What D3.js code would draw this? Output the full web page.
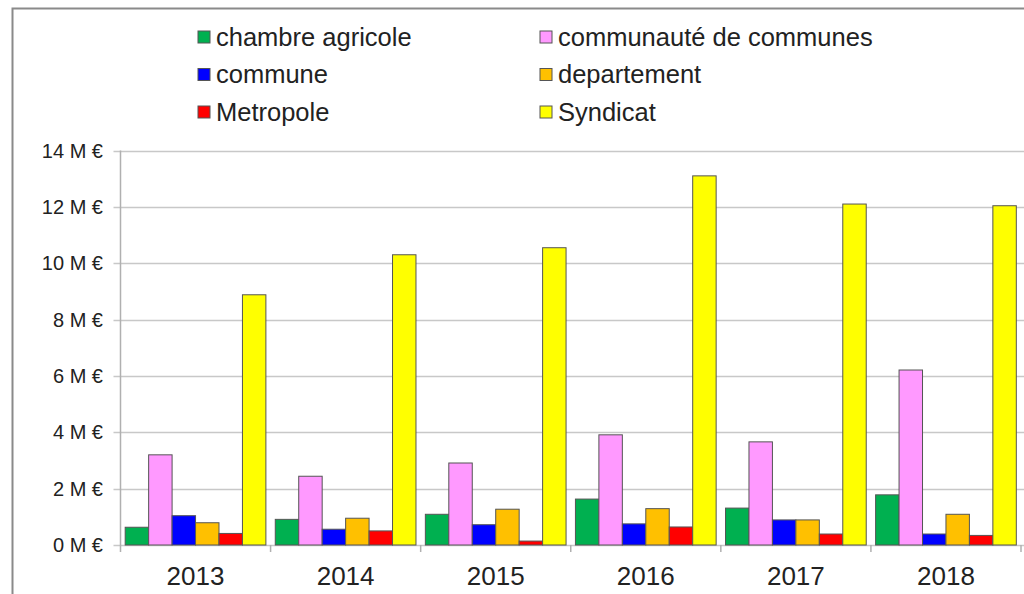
<!DOCTYPE html>
<html>
<head>
<meta charset="utf-8">
<script src="https://cdn.jsdelivr.net/npm/d3@7"></script>
<style>
  body { margin: 0; background: #fff; }
  text { font-family: "Liberation Sans", Arial, sans-serif; fill: #222; }
</style>
</head>
<body>
<script>
// data
var years = ["2013", "2014", "2015", "2016", "2017", "2018"];
var seriesNames = ["chambre agricole", "communauté de communes", "commune", "departement", "Metropole", "Syndicat"];
var seriesColors = ["#00b050", "#ff99ff", "#0000ff", "#ffc000", "#ff0000", "#ffff00"];
var chambre = [0.63, 0.91, 1.09, 1.63, 1.31, 1.78];
var communaute = [3.20, 2.44, 2.91, 3.91, 3.66, 6.21];
var commune = [1.04, 0.56, 0.72, 0.75, 0.89, 0.39];
var departement = [0.79, 0.95, 1.27, 1.29, 0.89, 1.09];
var metropole = [0.41, 0.50, 0.14, 0.64, 0.39, 0.34];
var syndicat = [8.88, 10.30, 10.55, 13.10, 12.10, 12.04];
var yTicks = [0, 2, 4, 6, 8, 10, 12, 14];

var values = [chambre, communaute, commune, departement, metropole, syndicat];

var cWidth = 1024;
var cHeight = 594;
var plotLeft = 120.5, plotRight = 1021, plotTop = 150.5, plotBottom = 545;

var svg = d3.select("body")
    .append("svg")
    .attr("width", cWidth)
    .attr("height", cHeight);

// chart frame
svg.append("rect")
    .attr("x", 12.5).attr("y", 8.5)
    .attr("width", 1100).attr("height", 700)
    .attr("fill", "none")
    .attr("stroke", "#8a8a8a")
    .attr("stroke-width", 2);

var x0 = d3.scaleBand()
    .domain(years)
    .range([plotLeft, plotRight]);

var x1 = d3.scaleBand()
    .domain(seriesNames)
    .range([0, x0.bandwidth()])
    .paddingOuter(0.2);

var y = d3.scaleLinear()
    .domain([0, 14])
    .range([plotBottom, plotTop]);

// gridlines
svg.append("g").selectAll("line")
    .data(yTicks)
    .enter()
    .append("line")
    .attr("x1", plotLeft - 7).attr("x2", cWidth)
    .attr("y1", function(d) { return Math.round(y(d)) + 0.5; })
    .attr("y2", function(d) { return Math.round(y(d)) + 0.5; })
    .attr("stroke", "#c8c8c8")
    .attr("stroke-width", 1.5);

// y axis
svg.append("line")
    .attr("x1", plotLeft).attr("x2", plotLeft)
    .attr("y1", plotTop).attr("y2", plotBottom + 7)
    .attr("stroke", "#b0b0b0")
    .attr("stroke-width", 1.5);

svg.append("g").selectAll("text")
    .data(yTicks)
    .enter()
    .append("text")
    .attr("x", 103)
    .attr("y", function(d) { return y(d); })
    .attr("dy", "0.35em")
    .attr("text-anchor", "end")
    .attr("font-size", 20)
    .text(function(d) { return d + " M €"; });

// category ticks
svg.append("g").selectAll("line")
    .data(years)
    .enter()
    .append("line")
    .attr("x1", function(d) { return x0(d) + x0.step(); })
    .attr("x2", function(d) { return x0(d) + x0.step(); })
    .attr("y1", plotBottom).attr("y2", plotBottom + 7)
    .attr("stroke", "#b0b0b0")
    .attr("stroke-width", 1.5);

// bars
var groups = svg.append("g").selectAll("g")
    .data(years)
    .enter()
    .append("g")
    .attr("transform", function(d) { return "translate(" + x0(d) + ",0)"; });

groups.selectAll("rect")
    .data(function(d, i) {
        return seriesNames.map(function(s, k) { return {name: s, value: values[k][i], color: seriesColors[k]}; });
    })
    .enter()
    .append("rect")
    .attr("x", function(d) { return x1(d.name); })
    .attr("width", x1.bandwidth())
    .attr("y", function(d) { return y(d.value); })
    .attr("height", function(d) { return plotBottom - y(d.value); })
    .attr("fill", function(d) { return d.color; })
    .attr("stroke", "#555")
    .attr("stroke-width", 1);

// x labels
svg.append("g").selectAll("text")
    .data(years)
    .enter()
    .append("text")
    .attr("x", function(d) { return x0(d) + x0.bandwidth() / 2; })
    .attr("y", 585)
    .attr("text-anchor", "middle")
    .attr("font-size", 26)
    .text(function(d) { return d; });

// legend
var legend = svg.append("g").selectAll("g")
    .data(seriesNames)
    .enter()
    .append("g")
    .attr("transform", function(d, i) {
        var col = i % 2, row = Math.floor(i / 2);
        return "translate(" + (col === 0 ? 198 : 540) + "," + (37 + row * 37.5) + ")";
    });

legend.append("rect")
    .attr("x", 0).attr("y", -6)
    .attr("width", 12).attr("height", 12)
    .attr("fill", function(d, i) { return seriesColors[i]; })
    .attr("stroke", "#555")
    .attr("stroke-width", 1);

legend.append("text")
    .attr("x", 18)
    .attr("dy", "0.35em")
    .attr("font-size", 25.5)
    .text(function(d) { return d; });
</script>
</body>
</html>
